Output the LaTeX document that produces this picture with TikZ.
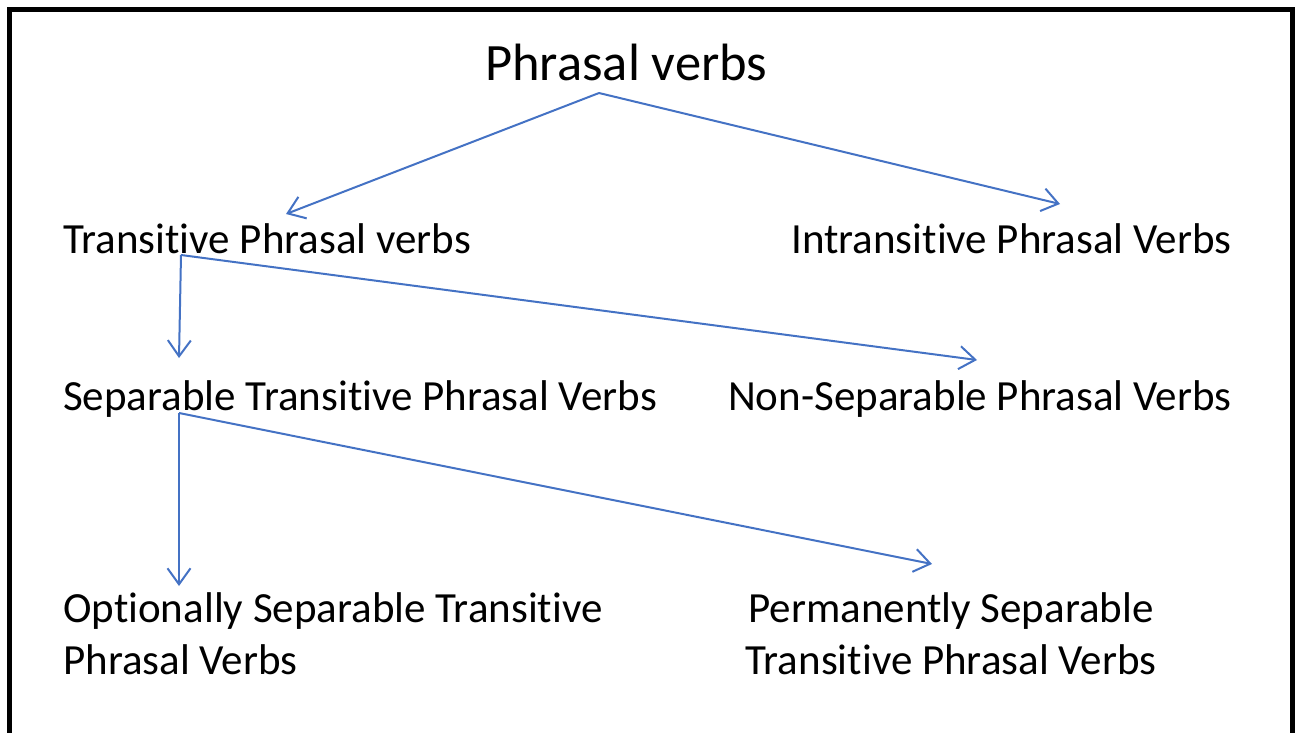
\documentclass[tikz,border=0pt]{standalone}
\usepackage{fontspec}
\setmainfont[Ligatures={NoCommon}]{Carlito}
\usetikzlibrary{arrows.meta}
\definecolor{lineblue}{HTML}{4472C4}
\tikzset{
  lbl/.style={inner sep=0pt, anchor=base west, font=\fontsize{43}{52}\selectfont},
  ttl/.style={inner sep=0pt, anchor=base west, font=\fontsize{52.5}{62}\selectfont},
  conn/.style={draw=lineblue, line width=2pt, -{Straight Barb[length=16pt,width=23pt,line width=2pt]}},
}
\begin{document}
\begin{tikzpicture}[x=1pt,y=-1pt]
\useasboundingbox (0,0) rectangle (1297,732);
\clip (0,0) rectangle (1297,732);
\draw[line width=5pt] (9.5,760) -- (9.5,9.5) -- (1292.5,9.5) -- (1292.5,760);

\node[ttl] (pv) at (485,80) {Phrasal verbs};
\node[lbl] (tpv) at (63,253) {Transitive Phrasal verbs};
\node[lbl] (ipv) at (791,253) {Intransitive Phrasal Verbs};
\node[lbl] (stpv) at (63,410) {Separable Transitive Phrasal Verbs};
\node[lbl] (nspv) at (728,410) {Non-Separable Phrasal Verbs};
\node[lbl, align=left, anchor=north west] (ostpv) at (63,592) {Optionally Separable Transitive\\Phrasal Verbs};
\node[lbl, align=center, anchor=north] (pstpv) at (951,592) {Permanently Separable\\Transitive Phrasal Verbs};

\coordinate (a0) at (599,93);
\coordinate (a1) at (286,214);
\coordinate (a2) at (1060,204);
\coordinate (b0) at (181,255);
\coordinate (b1) at (179,358);
\coordinate (b2) at (977,360);
\coordinate (c0) at (179,413);
\coordinate (c1) at (179,586);
\coordinate (c2) at (932,564);

\draw[conn] (a0) -- (a1);
\draw[conn] (a0) -- (a2);
\draw[conn] (b0) -- (b1);
\draw[conn] (b0) -- (b2);
\draw[conn] (c0) -- (c1);
\draw[conn] (c0) -- (c2);
\end{tikzpicture}
\end{document}
